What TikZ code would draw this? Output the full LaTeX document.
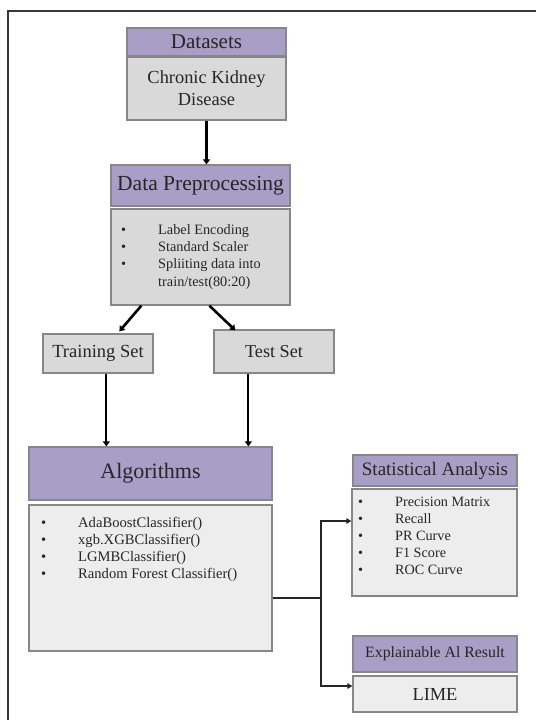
\documentclass[tikz,border=0pt]{standalone}
\usepackage{fontspec}
\setmainfont{Liberation Serif}
\usetikzlibrary{arrows.meta}
\definecolor{hdrpurple}{RGB}{169,158,198}
\definecolor{bodygray}{RGB}{217,217,217}
\definecolor{bodylight}{RGB}{237,237,237}
\definecolor{edgegray}{RGB}{135,135,135}
\definecolor{framegray}{RGB}{55,55,55}
\tikzset{
  box/.style={draw=edgegray, line width=1.3pt, inner sep=0pt, align=center, text=black!85},
  hdr/.style={box, fill=hdrpurple},
  gbody/.style={box, fill=bodygray},
  lbody/.style={box, fill=bodylight},
  listtxt/.style={inner sep=0pt, anchor=base west, text=black!85},
  thickarrow/.style={line width=2.6pt, -{Triangle[length=5pt,width=7pt]}},
  thinarrow/.style={line width=1.2pt, draw=black!85, -{Triangle[length=5pt,width=5.5pt]}},
  thinline/.style={line width=1.2pt, draw=black!85},
}
\newcommand{\fs}[2]{\fontsize{#1}{#2}\selectfont}
\begin{document}
\begin{tikzpicture}[x=1pt,y=-1pt]
\useasboundingbox (0,0) rectangle (536,720);
% frame
\draw[framegray, line width=1.5pt] (8,720) -- (8,11) -- (536,11);

% Datasets
\node[hdr, minimum width=159pt, minimum height=28pt, font=\fs{21}{24}] (ds) at (206.5,42) {Datasets};
\node[gbody, minimum width=159pt, minimum height=63pt, font=\fs{18.4}{22}] (ckd) at (206.5,88.5) {Chronic Kidney\\Disease};

% Data preprocessing
\node[hdr, minimum width=179pt, minimum height=41pt, font=\fs{21.5}{24}] (dph) at (200.5,185.5) {Data Preprocessing};
\node[gbody, minimum width=179pt, minimum height=96pt] (dpb) at (200.5,257) {};
\node[listtxt, font=\fs{14.3}{17.4}] (dplist) at (121,234) {%
\begin{tabular}[t]{@{}p{37pt}@{}l@{}}
\textbullet & Label Encoding\\
\textbullet & Standard Scaler\\
\textbullet & Spliiting data into\\
 & train/test(80:20)
\end{tabular}};

% Training / Test
\node[gbody, minimum width=110pt, minimum height=39pt, font=\fs{18.5}{22}] (train) at (98,353.5) {Training Set};
\node[gbody, minimum width=120pt, minimum height=43pt, font=\fs{18.2}{22}] (test) at (274,351.5) {Test Set};

% Algorithms
\node[hdr, minimum width=243pt, minimum height=53pt, font=\fs{22}{26}] (algh) at (150.5,473.5) {Algorithms};
\node[lbody, minimum width=243pt, minimum height=146pt] (algb) at (150.5,578) {};
\node[listtxt, font=\fs{14.6}{17.3}] (alglist) at (41,527) {%
\begin{tabular}[t]{@{}p{37pt}@{}l@{}}
\textbullet & AdaBoostClassifier()\\
\textbullet & xgb.XGBClassifier()\\
\textbullet & LGMBClassifier()\\
\textbullet & Random Forest Classifier()
\end{tabular}};

% Statistical analysis
\node[hdr, minimum width=164pt, minimum height=31pt, font=\fs{19}{22}] (sth) at (435,470.5) {Statistical Analysis};
\node[lbody, minimum width=165pt, minimum height=107pt] (stb) at (434.5,542.5) {};
\node[listtxt, font=\fs{14.2}{17}] (stlist) at (358,506) {%
\begin{tabular}[t]{@{}p{37pt}@{}l@{}}
\textbullet & Precision Matrix\\
\textbullet & Recall\\
\textbullet & PR Curve\\
\textbullet & F1 Score\\
\textbullet & ROC Curve
\end{tabular}};

% Explainable AI
\node[hdr, minimum width=164pt, minimum height=36pt, font=\fs{15.8}{19}] (xai) at (435,654) {Explainable Al Result};
\node[lbody, minimum width=164pt, minimum height=36pt, font=\fs{18.4}{22}] (lime) at (435,694) {LIME};

% arrows
\draw[thickarrow] (ckd.south) -- (ckd.south |- dph.north);
\draw[thickarrow] ([xshift=31pt]dpb.south west) -- ([xshift=77pt,yshift=2pt]train.north west);
\draw[thickarrow] ([xshift=99pt]dpb.south west) -- ([xshift=22pt,yshift=-1pt]test.north west);
\draw[thickarrow, line width=2pt] ([xshift=64pt]train.south west) -- ([xshift=78pt]algh.north west);
\draw[thickarrow, line width=2pt] ([xshift=35pt]test.south west) -- ([xshift=220pt]algh.north west);

% connectors to right column
\coordinate (j) at (321,598);
\coordinate (jt) at (321,521);
\coordinate (jb) at (321,686);
\draw[thinline] (algb.east |- j) -- (j);
\draw[thinarrow] (j) -- (jt) -- (stb.west |- jt);
\draw[thinarrow] (j) -- (jb) -- (lime.west |- jb);
\end{tikzpicture}
\end{document}
